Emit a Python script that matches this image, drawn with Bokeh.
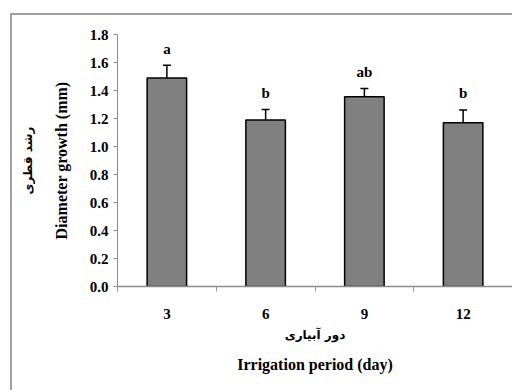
from bokeh.plotting import figure
from bokeh.models import (ColumnDataSource, Range1d, FixedTicker, Whisker, Title,
                          NumeralTickFormatter)
from bokeh.core.properties import value
from bokeh.embed import file_html
from bokeh.resources import INLINE

categories = ["3", "6", "9", "12"]
means = [1.49, 1.19, 1.355, 1.17]
errors = [0.09, 0.075, 0.06, 0.09]
letters = ["a", "b", "ab", "b"]
y_ticks = [0.0, 0.2, 0.4, 0.6, 0.8, 1.0, 1.2, 1.4, 1.6, 1.8]

xs = list(range(1, len(categories) + 1))
src = ColumnDataSource(dict(
    x=xs, top=means,
    upper=[m + e for m, e in zip(means, errors)],
    lower=[m - e for m, e in zip(means, errors)],
    ly=[m + e + 0.12 for m, e in zip(means, errors)],
    letter=letters,
))

SERIF = "Liberation Serif"

p = figure(width=502, height=377, output_backend="svg", toolbar_location=None,
           x_range=Range1d(0.5, 4.5), y_range=Range1d(0, 1.8),
           min_border_left=105, min_border_right=2, min_border_top=19, min_border_bottom=106,
           styles={"margin-left": "10px", "margin-top": "13px",
                   "border-left": "2px solid #a0a0a0", "border-top": "2px solid #a0a0a0"})
p.outline_line_color = None
p.xgrid.visible = False
p.ygrid.visible = False
p.background_fill_color = "white"
p.border_fill_color = "white"

p.vbar(x="x", top="top", width=0.4, bottom=0, source=src,
       fill_color="#808080", line_color="black", line_width=1.5)
w = Whisker(base="x", upper="upper", lower="lower", source=src,
            line_color="black", line_width=1.5)
w.upper_head.size = 8
w.lower_head.size = 8
w.upper_head.line_width = 1.5
w.lower_head.line_width = 1.5
p.add_layout(w)

p.text(x="x", y="ly", text="letter", source=src, text_align="center",
       text_baseline="middle", text_font=value(SERIF), text_font_size="15px",
       text_font_style="bold", text_color="black")

# x axis
xa = p.xaxis[0]
xa.ticker = FixedTicker(ticks=xs, minor_ticks=[0.5, 1.5, 2.5, 3.5, 4.5])
xa.major_label_overrides = {i: c for i, c in zip(xs, categories)}
xa.major_tick_line_color = None
xa.major_tick_out = 0
xa.major_tick_in = 0
xa.minor_tick_line_color = "#999999"
xa.minor_tick_out = 5
xa.minor_tick_in = 0
xa.axis_line_color = "#8c8c8c"
xa.axis_line_width = 1.5
xa.major_label_text_font = SERIF
xa.major_label_text_font_size = "15px"
xa.major_label_text_font_style = "bold"
xa.major_label_text_color = "black"
xa.major_label_standoff = 17
xa.axis_label = "دور آبیاری"
xa.axis_label_text_font = "DejaVu Sans"
xa.axis_label_text_font_size = "12px"
xa.axis_label_text_font_style = "bold"
xa.axis_label_text_color = "black"
xa.axis_label_standoff = 6

# y axis
ya = p.yaxis[0]
ya.ticker = FixedTicker(ticks=y_ticks)
ya.formatter = NumeralTickFormatter(format="0.0")
ya.minor_tick_line_color = None
ya.major_tick_line_color = "#8c8c8c"
ya.major_tick_out = 4
ya.major_tick_in = 0
ya.axis_line_color = "#8c8c8c"
ya.axis_line_width = 1.0
ya.major_label_text_font = SERIF
ya.major_label_text_font_size = "15px"
ya.major_label_text_font_style = "bold"
ya.major_label_text_color = "black"
ya.major_label_standoff = 5

# axis titles (English + Persian) as side titles
p.add_layout(Title(text="Diameter growth (mm)", align="center", offset=-4, standoff=33,
                   text_font=SERIF, text_font_size="16px", text_font_style="bold",
                   text_color="black"), "left")
p.add_layout(Title(text="رشد قطری", align="center", offset=50, standoff=0,
                   text_font="DejaVu Sans", text_font_size="12px", text_font_style="bold",
                   text_color="black"), "left")
p.add_layout(Title(text="Irrigation period (day)", align="center", offset=2, standoff=18,
                   text_font=SERIF, text_font_size="16px", text_font_style="bold",
                   text_color="black"), "below")

open("out.html", "w").write(file_html(p, INLINE))
